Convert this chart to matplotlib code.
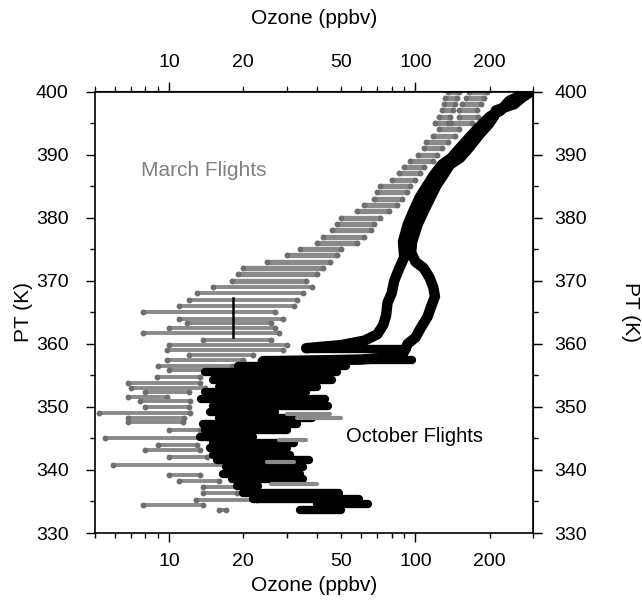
import matplotlib
matplotlib.use("Agg")
import matplotlib.pyplot as plt
from matplotlib.ticker import FixedLocator, FixedFormatter

plt.rcParams['font.family'] = ['Liberation Sans', 'DejaVu Sans']

# ---------------- data ----------------
# March flights: horizontal flight legs (PT level, ozone low end, ozone high end)
march_pt = [400.0, 400.0, 399.0, 399.0, 398.0, 398.0, 397.0, 397.0, 396.0, 396.0,
            395.0, 395.0, 394.0, 393.0, 392.0, 391.0, 390.0, 389.0, 388.0, 387.0,
            386.0, 385.0, 384.0, 383.0, 382.0, 381.0, 380.0, 379.0, 378.0, 377.0,
            376.0, 375.0, 374.0, 373.0, 372.0, 371.0, 370.0,
            369.0, 368.0, 367.0, 366.0, 365.0, 364.0, 363.3, 362.5, 361.7, 360.6,
            359.8, 359.0, 358.2, 357.5, 356.5, 355.9, 354.8, 353.8, 353.0, 352.3,
            351.6, 351.0, 350.0, 349.0, 348.3, 347.6, 346.3, 345.0, 344.0, 343.2,
            342.0, 340.8, 339.2, 338.2, 337.3, 336.3, 335.2, 334.4, 333.7]
march_lo = [135, 165, 132, 160, 130, 155, 128, 150, 125, 150,
            120, 140, 125, 118, 110, 108, 102, 95, 90, 86,
            80, 72, 70, 68, 62, 58, 50, 48, 46, 42,
            40, 34, 30, 25, 20, 19, 18,
            15, 13, 12, 11, 7.8, 11, 11.8, 10, 7.8, 13.7,
            10, 9.8, 12, 9.8, 9, 10, 8.9, 6.8, 7, 8,
            6.8, 7.6, 8, 5.2, 6.8, 6.8, 10, 5.5, 9, 8,
            10, 5.9, 10, 11, 13.7, 13.7, 12.9, 7.8, 16]
march_hi = [150, 195, 148, 190, 145, 185, 142, 178, 138, 180,
            135, 170, 150, 145, 135, 128, 122, 118, 108, 104,
            100, 95, 92, 88, 84, 78, 72, 68, 66, 62,
            58, 50, 48, 45, 42, 40, 36,
            38, 35, 33, 32, 27, 29, 26, 27, 28, 26,
            30, 29, 22, 20, 18, 15.6, 13.3, 13.3, 14, 12,
            9.8, 12.1, 12, 12.1, 11.5, 11.4, 13.3, 14.2, 13, 13.3,
            14.2, 17, 13.3, 16, 22.7, 18.8, 22.7, 13.7, 17]

# March points seen on top of the October block
march_over_pt = [348.8, 348.2, 344.8, 341.2, 337.8]
march_over_lo = [30, 33, 28, 25, 26]
march_over_hi = [45, 50, 36, 32, 40]

# October flights: two upper profiles (ozone, PT)
oct_a_o3 = [290, 240, 222, 200, 186, 170, 152, 140, 128, 119, 112, 104, 98, 93,
            89, 90, 86, 82, 80, 77, 76, 74, 70, 62, 50, 36]
oct_a_pt = [400.0, 398.5, 397.0, 396.0, 394.8, 393.2, 391.1, 389.5, 388.4, 386.8,
            385.2, 383.2, 381.0, 378.9, 376.2, 373.7, 372.0, 370.0, 368.0, 366.5,
            364.5, 363.0, 361.5, 360.5, 359.8, 359.3]
oct_b_o3 = [295, 270, 252, 212, 208, 198, 182, 165, 152, 138, 130, 122, 115, 108,
            102, 97, 96, 100, 108, 114, 118, 120, 116, 112, 105, 100, 93, 88, 60, 24]
oct_b_pt = [400.0, 399.0, 398.0, 397.0, 396.0, 394.8, 393.2, 391.1, 389.5, 388.4,
            386.8, 385.2, 383.2, 381.0, 378.9, 376.2, 374.5, 373.0, 372.0, 370.5,
            369.0, 367.5, 366.0, 364.3, 362.5, 361.0, 360.0, 358.0, 357.5, 357.2]

# October flights: lower level legs (PT level, ozone low end, ozone high end)
oct_leg_pt = [359.2, 357.5, 356.5, 355.5, 354.2, 353.2, 352.3, 351.2, 350.2, 349.2,
              348.3, 347.3, 346.3, 345.3, 344.3, 343.4, 342.4, 341.5, 340.4, 339.4,
              338.5, 337.4, 336.3, 335.4, 334.6, 333.6]
oct_leg_lo = [36, 24, 19, 14, 15, 16, 14, 13.5, 15, 14.6,
              16, 13.7, 14, 13.3, 15, 14.6, 15, 15.6, 17, 16.5,
              18, 18.8, 20, 22, 40, 34]
oct_leg_hi = [92, 97, 52, 48, 46, 40, 36, 43, 44, 27,
              38, 33, 30, 22, 32, 30, 31, 37, 35, 34,
              35, 23, 49, 59, 64, 50]

# small black vertical segment inside the March data
spike_o3 = [18.1, 18.1]
spike_pt = [361.0, 367.2]

x_major = [10, 100]
x_minor = [5, 6, 7, 8, 9, 20, 30, 40, 50, 60, 70, 80, 90, 200, 300]
x_minor_labels = {20: '20', 50: '50', 200: '200'}
y_ticks = [330, 340, 350, 360, 370, 380, 390, 400]
y_minor = [335, 345, 355, 365, 375, 385, 395]

# ---------------- figure ----------------
fig = plt.figure(figsize=(6.42, 6.01), dpi=100)
ax = fig.add_axes([95 / 642, 1 - 533 / 601, 438 / 642, 441.5 / 601])
ax.set_xscale('log')
ax.set_xlim(5, 300)
ax.set_ylim(330, 400)

mgray = '#8a8a8a'
for p, lo, hi in zip(march_pt, march_lo, march_hi):
    lw = 3.8 if p >= 370 else 2.8
    ax.plot([lo, hi], [p, p], color=mgray, lw=lw, solid_capstyle='round', zorder=2)
    ax.plot([lo, hi], [p, p], ls='none', marker='o', ms=3.2, color='#6e6e6e', zorder=2)

for p, lo, hi in zip(oct_leg_pt, oct_leg_lo, oct_leg_hi):
    ax.plot([lo, hi], [p, p], color='black', lw=6, solid_capstyle='round', zorder=3)

ax.plot(oct_a_o3, oct_a_pt, color='black', lw=7.5, solid_capstyle='round',
        solid_joinstyle='round', zorder=3)
ax.plot(oct_b_o3, oct_b_pt, color='black', lw=7.5, solid_capstyle='round',
        solid_joinstyle='round', zorder=3)
ax.plot(spike_o3, spike_pt, color='black', lw=1.8, zorder=3)

for p, lo, hi in zip(march_over_pt, march_over_lo, march_over_hi):
    ax.plot([lo, hi], [p, p], color=mgray, lw=3.0, solid_capstyle='round', zorder=4)

ax.text(0.105, 0.82, 'March Flights', transform=ax.transAxes, fontsize=15,
        color='#808080', ha='left', va='center')
ax.text(0.572, 0.218, 'October Flights', transform=ax.transAxes, fontsize=14.5,
        color='black', ha='left', va='center')

def style_x(axis_obj):
    axis_obj.set_major_locator(FixedLocator(x_major))
    axis_obj.set_major_formatter(FixedFormatter([str(v) for v in x_major]))
    axis_obj.set_minor_locator(FixedLocator(x_minor))
    axis_obj.set_minor_formatter(FixedFormatter([x_minor_labels.get(v, '') for v in x_minor]))

style_x(ax.xaxis)
ax.set_yticks(y_ticks)
ax.set_yticks(y_minor, minor=True)

ax.tick_params(axis='both', which='major', direction='out', length=6.5, width=1,
               labelsize=14)
ax.tick_params(axis='both', which='minor', direction='out', length=3.5, width=1,
               labelsize=14)
ax.tick_params(axis='x', which='major', pad=8)
ax.tick_params(axis='x', which='minor', pad=11)
ax.tick_params(axis='y', which='major', pad=12.5)
ax.tick_params(axis='y', which='minor', labelleft=False)
ax.tick_params(top=True, right=True, which='both')
ax.set_xlabel('Ozone (ppbv)', fontsize=15, labelpad=4)
ax.set_ylabel('PT (K)', fontsize=15, labelpad=2)

secx = ax.secondary_xaxis('top')
style_x(secx.xaxis)
secx.tick_params(which='major', direction='out', length=6.5, labelsize=14, pad=8)
secx.tick_params(which='minor', direction='out', length=3.5, labelsize=14, pad=11)
secx.set_xlabel('Ozone (ppbv)', fontsize=15, labelpad=22)

secy = ax.secondary_yaxis('right')
secy.set_yticks(y_ticks)
secy.set_yticks(y_minor, minor=True)
secy.tick_params(which='major', direction='out', length=6.5, labelsize=14, pad=9)
secy.tick_params(which='minor', direction='out', length=3.5, labelright=False)
secy.set_ylabel('PT (K)', fontsize=15, rotation=270, labelpad=38)

for s in ax.spines.values():
    s.set_linewidth(1.2)

fig.savefig('out.png', dpi=100)
